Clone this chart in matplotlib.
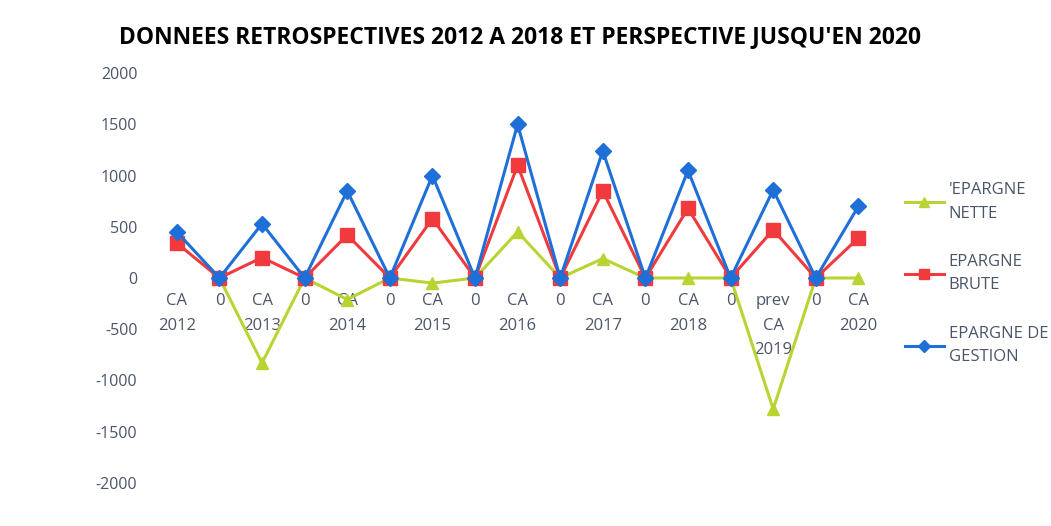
import numpy as np
import matplotlib.pyplot as plt
from matplotlib.lines import Line2D

# categories on the x axis
categories = ["CA\n2012", "0", "CA\n2013", "0", "CA\n2014", "0", "CA\n2015", "0",
              "CA\n2016", "0", "CA\n2017", "0", "CA\n2018", "0", "prev\nCA\n2019", "0",
              "CA\n2020"]

epargne_nette = [np.nan, 0, -830, 0, -210, 0, -50, 0, 450, 0, 190, 0, 0, 0, -1280, 0, 0]
epargne_brute = [340, 0, 200, 0, 420, 0, 580, 0, 1100, 0, 850, 0, 680, 0, 470, 0, 390]
epargne_gestion = [450, 0, 530, 0, 850, 0, 1000, 0, 1500, 0, 1240, 0, 1050, 0, 860, 0, 700]

labels = ["'EPARGNE\nNETTE", "EPARGNE\nBRUTE", "EPARGNE DE\nGESTION"]
yticks = [-2000, -1500, -1000, -500, 0, 500, 1000, 1500, 2000]

plt.rcParams['font.family'] = ['Open Sans', 'DejaVu Sans']
txt_color = "#4a5568"

fig = plt.figure(figsize=(10.51, 5.26), dpi=100)
ax = fig.add_axes([0.148, 0.082, 0.689, 0.779])

# category axis crosses at 0 (set before the ticks, it resets them)
ax.spines["bottom"].set_position(("data", 0))
for s in ["top", "right", "left", "bottom"]:
    ax.spines[s].set_visible(False)

x = np.arange(len(categories))
green = "#b8d432"
red = "#f03a3e"
blue = "#1f6fd8"

ax.plot(x, epargne_nette, color=green, lw=2.2, marker="^", ms=9, zorder=2)
ax.plot(x, epargne_brute, color=red, lw=2.2, marker="s", ms=9.5, zorder=3)
ax.plot(x, epargne_gestion, color=blue, lw=2.2, marker="D", ms=8, zorder=4)

ax.set_xlim(-0.5, len(categories) - 0.5)
ax.set_ylim(-2000, 2000)
ax.set_yticks(yticks)
ax.set_yticklabels([str(v) for v in yticks], color=txt_color, fontsize=11.5)
ax.tick_params(axis="y", length=0, pad=13)

ax.set_xticks(x)
ax.set_xticklabels(categories, fontsize=12, linespacing=1.7, color=txt_color)
ax.tick_params(axis="x", length=0, pad=11)

fig.text(0.495, 0.93, "DONNEES RETROSPECTIVES 2012 A 2018 ET PERSPECTIVE JUSQU'EN 2020",
         ha="center", va="center", fontsize=16.5, fontweight="bold", color="black")

handles = [
    Line2D([], [], color=green, lw=2.2, marker="^", ms=7),
    Line2D([], [], color=red, lw=2.2, marker="s", ms=7.5),
    Line2D([], [], color=blue, lw=2.2, marker="D", ms=6),
]
fig.legend(handles, labels, loc="upper left", bbox_to_anchor=(0.855, 0.666),
           frameon=False, fontsize=12, labelcolor=txt_color, handlelength=2.3,
           handletextpad=0.3, labelspacing=1.95, borderaxespad=0)
for t in fig.legends[0].get_texts():
    t.set_linespacing(1.6)

fig.savefig("out.png", dpi=100)
